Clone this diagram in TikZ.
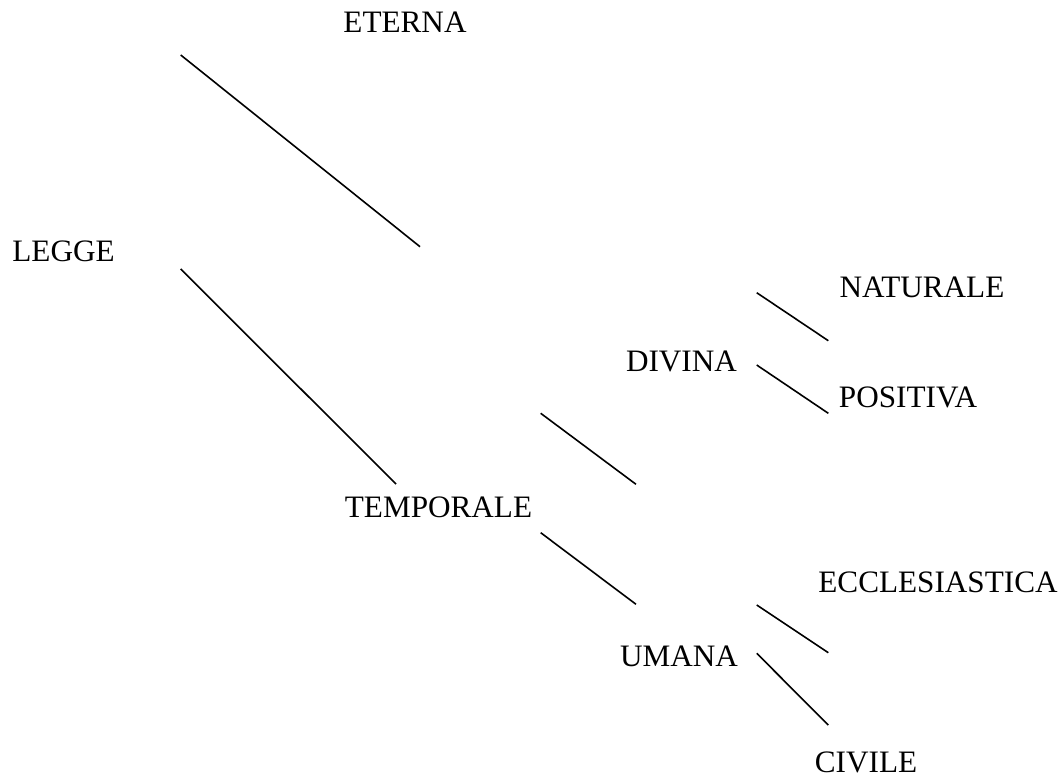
\documentclass[tikz,border=0pt]{standalone}
\usepackage{fontspec}
\setmainfont{Liberation Serif}
\begin{document}
\begin{tikzpicture}[x=1pt,y=-1pt,
    lab/.style={inner sep=0pt,font=\fontsize{31.2}{37}\selectfont},
    branch/.style={line width=1.6pt}]
    \useasboundingbox (0,0) rectangle (1060,778);
    \node[lab] (legge) at (63.5,251) {LEGGE};
    \node[lab] (eterna) at (405,22.5) {ETERNA};
    \node[lab] (temporale) at (438.5,507) {TEMPORALE};
    \node[lab] (divina) at (681.5,361) {DIVINA};
    \node[lab] (umana) at (679,656) {UMANA};
    \node[lab] (naturale) at (922,287.5) {NATURALE};
    \node[lab] (positiva) at (908,397.5) {POSITIVA};
    \node[lab] (eccl) at (938,582) {ECCLESIASTICA};
    \node[lab] (civile) at (866,762) {CIVILE};
    % branch ends
    \coordinate (le1) at (180.7,55);    \coordinate (et1) at (420,246.7);
    \coordinate (le2) at (180.7,269);   \coordinate (te1) at (396,484);
    \coordinate (te2) at (540.7,413.3); \coordinate (di1) at (636,484.3);
    \coordinate (te3) at (540.7,532.7); \coordinate (um1) at (636,604.3);
    \coordinate (di2) at (756.7,292.7); \coordinate (na1) at (828.3,340.7);
    \coordinate (di3) at (756.7,365);   \coordinate (po1) at (828.3,413.3);
    \coordinate (um2) at (756.7,605);   \coordinate (ec1) at (828.3,652.7);
    \coordinate (um3) at (756.7,653.3); \coordinate (ci1) at (828.3,725);
    \foreach \a/\b in {le1/et1,le2/te1,te2/di1,te3/um1,di2/na1,di3/po1,um2/ec1,um3/ci1}
    \draw[branch] (\a) -- (\b);
\end{tikzpicture}
\end{document}
